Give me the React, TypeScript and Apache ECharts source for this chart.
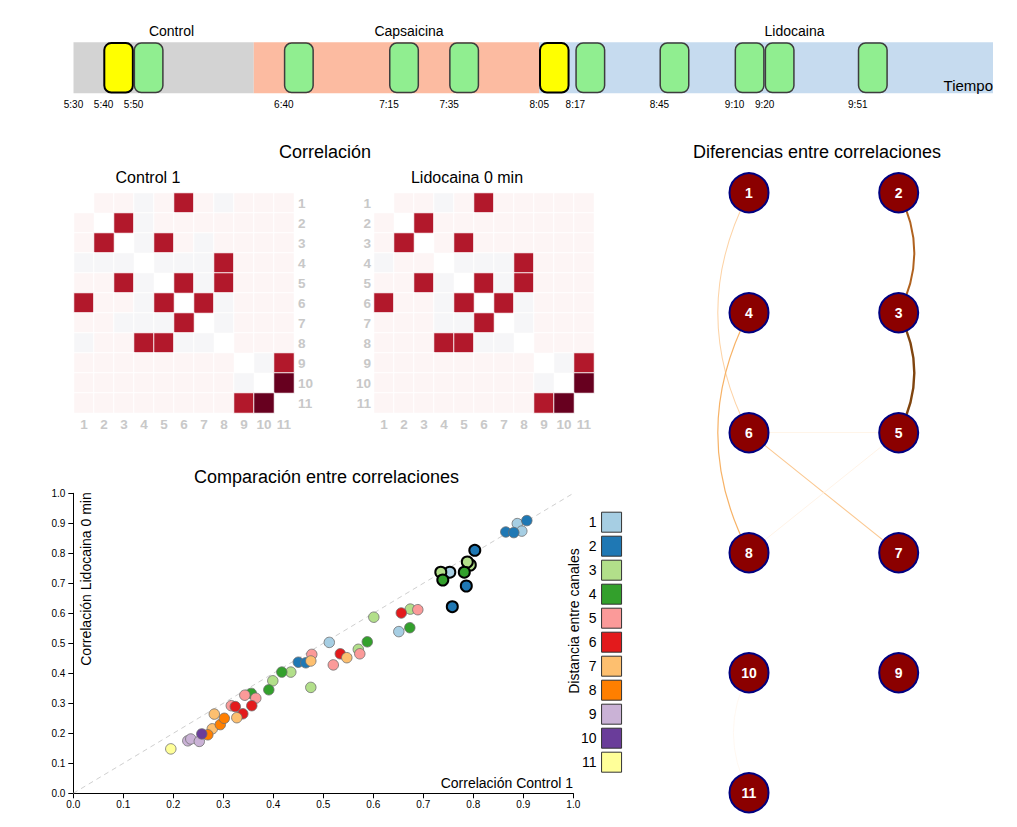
import React, { useEffect, useRef } from 'react';
import * as echarts from 'echarts';

const FONT = 'Arial, "Liberation Sans", Helvetica, sans-serif';

// ---------- Timeline data ----------
const timelineStart = '5:30';
const timelineEnd = '10:36';
const phaseNames = ['Control', 'Capsaicina', 'Lidocaina'];
const phaseStarts = ['5:30', '6:30', '8:05'];
const phaseEnds = ['6:30', '8:05', '10:36'];
const sampleTimes = ['5:40', '5:50', '6:40', '7:15', '7:35', '8:05', '8:17', '8:45', '9:10', '9:20', '9:51'];
const sampleIsReference = [1, 0, 0, 0, 0, 1, 0, 0, 0, 0, 0];
const sampleMinutes = 10;
const timeTickLabels = ['5:30', '5:40', '5:50', '6:40', '7:15', '7:35', '8:05', '8:17', '8:45', '9:10', '9:20', '9:51'];

// ---------- Correlation matrices ----------
const channels = ['1', '2', '3', '4', '5', '6', '7', '8', '9', '10', '11'];
const N = null;
const control1Matrix = [
  [N, 0.1, 0.1, -0.05, 0.1, 0.8, 0.1, -0.05, 0.1, 0.1, 0.1],
  [0.1, N, 0.8, -0.05, 0.1, 0.1, 0.1, 0.1, 0.1, 0.1, 0.1],
  [0.1, 0.8, N, -0.05, 0.8, 0.1, -0.05, 0.1, 0.1, 0.1, 0.1],
  [-0.05, -0.05, -0.05, N, -0.05, -0.05, -0.05, 0.8, 0.1, 0.1, 0.1],
  [0.1, 0.1, 0.8, -0.05, N, 0.8, -0.05, 0.8, 0.1, 0.1, 0.1],
  [0.8, 0.1, 0.1, -0.05, 0.8, N, 0.8, -0.05, 0.1, 0.1, 0.1],
  [0.1, 0.1, -0.05, -0.05, -0.05, 0.8, N, -0.05, 0.1, 0.1, 0.1],
  [-0.05, 0.1, 0.1, 0.8, 0.8, -0.05, -0.05, N, 0.1, 0.1, 0.1],
  [0.1, 0.1, 0.1, 0.1, 0.1, 0.1, 0.1, 0.1, N, -0.05, 0.8],
  [0.1, 0.1, 0.1, 0.1, 0.1, 0.1, 0.1, 0.1, -0.05, N, 0.95],
  [0.1, 0.1, 0.1, 0.1, 0.1, 0.1, 0.1, 0.1, 0.8, 0.95, N],
];
const lidocaine0Matrix = [
  [N, 0.1, 0.1, -0.05, 0.1, 0.8, 0.1, 0.1, 0.1, 0.1, 0.1],
  [0.1, N, 0.8, 0.1, 0.1, 0.1, 0.1, 0.1, 0.1, 0.1, 0.1],
  [0.1, 0.8, N, 0.1, 0.8, 0.1, 0.1, 0.1, 0.1, 0.1, 0.1],
  [-0.05, 0.1, 0.1, N, -0.05, -0.05, -0.05, 0.8, 0.1, 0.1, 0.1],
  [0.1, 0.1, 0.8, -0.05, N, 0.8, -0.05, 0.8, 0.1, 0.1, 0.1],
  [0.8, 0.1, 0.1, -0.05, 0.8, N, 0.8, -0.05, 0.1, 0.1, 0.1],
  [0.1, 0.1, 0.1, -0.05, -0.05, 0.8, N, -0.05, 0.1, 0.1, 0.1],
  [0.1, 0.1, 0.1, 0.8, 0.8, -0.05, -0.05, N, 0.1, 0.1, 0.1],
  [0.1, 0.1, 0.1, 0.1, 0.1, 0.1, 0.1, 0.1, N, -0.05, 0.8],
  [0.1, 0.1, 0.1, 0.1, 0.1, 0.1, 0.1, 0.1, -0.05, N, 0.95],
  [0.1, 0.1, 0.1, 0.1, 0.1, 0.1, 0.1, 0.1, 0.8, 0.95, N],
];

// ---------- Network of correlation differences ----------
const networkRows = [['1', '2'], ['4', '3'], ['6', '5'], ['8', '7'], ['10', '9'], ['11']];
const diffEdges: [string, string, number][] = [
  ['2', '3', 0.085],
  ['3', '5', 0.1],
  ['1', '6', 0.03],
  ['4', '8', 0.045],
  ['6', '5', 0.005],
  ['6', '7', 0.035],
  ['5', '8', 0.006],
  ['10', '11', 0.002],
];

// ---------- Scatter: [Control 1, Lidocaina 0 min, highlighted] by channel distance ----------
const distanceLabels = ['1', '2', '3', '4', '5', '6', '7', '8', '9', '10', '11'];
const dist1 = [[0.512, 0.503, 0], [0.651, 0.539, 0], [0.753, 0.737, 1], [0.888, 0.899, 0], [0.897, 0.874, 0]];
const dist2 = [[0.45, 0.437, 0], [0.465, 0.435, 0], [0.758, 0.622, 1], [0.786, 0.691, 1], [0.803, 0.81, 1], [0.865, 0.871, 0], [0.881, 0.869, 0], [0.907, 0.909, 0]];
const dist3 = [[0.399, 0.375, 0], [0.435, 0.404, 0], [0.475, 0.353, 0], [0.57, 0.48, 0], [0.601, 0.587, 0], [0.674, 0.614, 0], [0.735, 0.737, 1], [0.794, 0.761, 1], [0.788, 0.771, 1]];
const dist4 = [[0.356, 0.333, 0], [0.391, 0.345, 0], [0.417, 0.404, 0], [0.588, 0.505, 0], [0.673, 0.552, 0], [0.739, 0.711, 1], [0.782, 0.737, 1]];
const dist5 = [[0.316, 0.292, 0], [0.343, 0.327, 0], [0.365, 0.317, 0], [0.477, 0.463, 0], [0.52, 0.428, 0], [0.573, 0.465, 0], [0.689, 0.612, 0]];
const dist6 = [[0.324, 0.289, 0], [0.339, 0.265, 0], [0.357, 0.292, 0], [0.534, 0.465, 0], [0.656, 0.601, 0]];
const dist7 = [[0.278, 0.215, 0], [0.282, 0.264, 0], [0.327, 0.252, 0], [0.475, 0.441, 0], [0.547, 0.452, 0]];
const dist8 = [[0.269, 0.195, 0], [0.294, 0.229, 0], [0.302, 0.25, 0]];
const dist9 = [[0.229, 0.175, 0], [0.235, 0.181, 0], [0.252, 0.173, 0]];
const dist10 = [[0.257, 0.198, 0]];
const dist11 = [[0.195, 0.148, 0]];
const scatterByDistance = [dist1, dist2, dist3, dist4, dist5, dist6, dist7, dist8, dist9, dist10, dist11];
const identityLine = [[0, 0], [1, 1]];

// ---------- Styles ----------
const phaseColors = ['#d3d3d3', '#fcbba1', '#c6dbef'];
const distanceColors = ['#a6cee3', '#1f78b4', '#b2df8a', '#33a02c', '#fb9a99', '#e31a1c', '#fdbf6f', '#ff7f00', '#cab2d6', '#6a3d9a', '#ffff99'];
const edgeStops: [number, string][] = [
  [0, '#fffaf4'],
  [0.03, '#fdd3a6'],
  [0.045, '#f7b266'],
  [0.085, '#b0621f'],
  [0.1, '#80450f'],
];

const baseMin = (() => {
  const [h, m] = timelineStart.split(':').map(Number);
  return h * 60 + m;
})();
const toMin = (s: string) => {
  const [h, m] = s.split(':').map(Number);
  return h * 60 + m - baseMin;
};
const fmtMin = (v: number) => {
  const t = Math.round(v + baseMin);
  const h = Math.floor(t / 60);
  const m = t % 60;
  return `${h}:${m < 10 ? '0' + m : m}`;
};

function hexToRgb(h: string) {
  const n = parseInt(h.slice(1), 16);
  return [(n >> 16) & 255, (n >> 8) & 255, n & 255];
}
function edgeColor(v: number) {
  for (let i = 1; i < edgeStops.length; i++) {
    if (v <= edgeStops[i][0]) {
      const [a, ca] = edgeStops[i - 1];
      const [b, cb] = edgeStops[i];
      const t = (v - a) / (b - a);
      const A = hexToRgb(ca);
      const B = hexToRgb(cb);
      const c = A.map((x, k) => Math.round(x + (B[k] - x) * t));
      return `rgb(${c[0]},${c[1]},${c[2]})`;
    }
  }
  return edgeStops[edgeStops.length - 1][1];
}
const edgeWidth = (v: number) => 0.9 + 150 * v * v;

function matrixToData(m: (number | null)[][]) {
  const out: number[][] = [];
  m.forEach((row, r) =>
    row.forEach((v, c) => {
      if (v !== null) out.push([c, r, v]);
    })
  );
  return out;
}

function buildOption() {
  const nodePos: Record<string, [number, number]> = {};
  networkRows.forEach((row, r) => row.forEach((id, c) => (nodePos[id] = [c, r])));
  const nodes = Object.keys(nodePos).map((id) => ({ name: id, value: nodePos[id] }));
  const links = diffEdges.map(([s, t, v]) => {
    const [sc, sr] = nodePos[s];
    const [tc, tr] = nodePos[t];
    let curveness = 0;
    if (sc === tc) curveness = (sc === 0 ? -1 : 1) * 0.26 * (tr > sr ? 1 : -1);
    return {
      source: s,
      target: t,
      value: v,
      lineStyle: { color: edgeColor(v), width: edgeWidth(v), curveness, opacity: 1 },
    };
  });

  const heatLabel = { color: '#c8c8c8', fontWeight: 'bold', fontSize: 13.5, fontFamily: FONT, interval: 0 };
  const hidden = { axisLine: { show: false }, axisTick: { show: false }, splitLine: { show: false } };
  const blackAxis = {
    axisLine: { show: true, onZero: false, lineStyle: { color: '#000', width: 1 } },
    axisTick: { show: true, length: 5, lineStyle: { color: '#000' } },
    splitLine: { show: false },
  };

  const text = (t: string, x: number, y: number, size: number, align = 'center', rotation = 0) => ({
    type: 'text',
    x,
    y,
    z: 100,
    zlevel: 0,
    rotation,
    silent: true,
    style: { text: t, x: 0, y: 0, fontSize: size, fontFamily: FONT, fill: '#000', align, verticalAlign: 'middle' },
  });

  const scatterSeries = scatterByDistance.map((arr, i) => ({
    type: 'scatter',
    name: distanceLabels[i],
    xAxisIndex: 3,
    yAxisIndex: 3,
    symbolSize: 10.5,
    z: 3,
    itemStyle: { color: distanceColors[i], borderColor: '#6e6e6e', borderWidth: 0.8, opacity: 1 },
    emphasis: { disabled: true },
    data: arr.map(([x, y, h]) =>
      h
        ? { value: [x, y], symbolSize: 11, itemStyle: { borderColor: '#000', borderWidth: 2 } }
        : { value: [x, y] }
    ),
  }));

  return {
    animation: false,
    textStyle: { fontFamily: FONT },
    grid: [
      { left: 65.5, top: 34.3, width: 919.5, height: 51 },
      { left: 66, top: 185, width: 220, height: 220 },
      { left: 366, top: 185, width: 220, height: 220 },
      { left: 65.3, top: 485.3, width: 500, height: 300 },
      { left: 741, top: 184.7, width: 149.7, height: 600 },
    ],
    xAxis: [
      {
        type: 'value',
        gridIndex: 0,
        min: 0,
        max: toMin(timelineEnd),
        ...hidden,
        axisLabel: {
          customValues: timeTickLabels.map(toMin),
          formatter: (v: number) => fmtMin(v),
          fontSize: 10,
          color: '#000',
          margin: 6,
          fontFamily: FONT,
        },
      },
      { type: 'category', gridIndex: 1, data: channels, position: 'bottom', ...hidden, axisLabel: { ...heatLabel, margin: 4 } },
      { type: 'category', gridIndex: 2, data: channels, position: 'bottom', ...hidden, axisLabel: { ...heatLabel, margin: 4 } },
      {
        type: 'value',
        gridIndex: 3,
        min: 0,
        max: 1,
        interval: 0.1,
        ...blackAxis,
        axisLabel: { formatter: (v: number) => v.toFixed(1), fontSize: 10, color: '#000', margin: 6, fontFamily: FONT },
      },
      { type: 'value', gridIndex: 4, min: 0, max: 1, show: false },
    ],
    yAxis: [
      { type: 'value', gridIndex: 0, min: 0, max: 1, show: false },
      { type: 'category', gridIndex: 1, data: channels, inverse: true, position: 'right', ...hidden, axisLabel: { ...heatLabel, margin: 4 } },
      { type: 'category', gridIndex: 2, data: channels, inverse: true, position: 'left', ...hidden, axisLabel: { ...heatLabel, margin: 3 } },
      {
        type: 'value',
        gridIndex: 3,
        min: 0,
        max: 1,
        interval: 0.1,
        ...blackAxis,
        axisLabel: { formatter: (v: number) => v.toFixed(1), fontSize: 10, color: '#000', margin: 8, fontFamily: FONT },
      },
      { type: 'value', gridIndex: 4, min: 0, max: 5, inverse: true, show: false },
    ],
    visualMap: [
      {
        type: 'piecewise',
        show: false,
        seriesIndex: [2, 3],
        dimension: 2,
        pieces: [
          { lt: 0, color: '#f6f6f8' },
          { gte: 0, lt: 0.5, color: '#fdf5f5' },
          { gte: 0.5, lt: 0.9, color: '#b2182b' },
          { gte: 0.9, color: '#67001f' },
        ],
      },
    ],
    legend: {
      data: distanceLabels,
      orient: 'vertical',
      left: 573,
      top: 503.7,
      padding: 0,
      itemWidth: 20,
      itemHeight: 20,
      itemGap: 3,
      align: 'right',
      icon: 'rect',
      selectedMode: false,
      textStyle: { fontSize: 14, color: '#000', fontFamily: FONT },
      itemStyle: { borderColor: '#333', borderWidth: 1 },
    },
    graphic: {
      elements: [
        text('Control', 163.5, 23, 14),
        text('Capsaicina', 401, 23, 14),
        text('Lidocaina', 786.5, 23, 14),
        text('Tiempo', 985, 77, 15, 'right'),
        text('Correlación', 317, 144, 18),
        text('Control 1', 140, 169, 16),
        text('Lidocaina 0 min', 459, 169, 16),
        text('Diferencias entre correlaciones', 809, 144, 18),
        text('Comparación entre correlaciones', 318.5, 469, 18),
        text('Correlación Control 1', 565, 774.7, 14, 'right'),
        text('Correlación Lidocaina 0 min', 78, 571, 14, 'center', Math.PI / 2),
        text('Distancia entre canales', 566, 613, 14, 'center', Math.PI / 2),
      ],
    },
    series: [
      {
        type: 'custom',
        name: 'phases',
        xAxisIndex: 0,
        yAxisIndex: 0,
        silent: true,
        z: 0,
        encode: { x: [0, 1] },
        data: phaseNames.map((n, i) => [toMin(phaseStarts[i]), toMin(phaseEnds[i]), i]),
        renderItem: (params: any, api: any) => {
          const s = api.coord([api.value(0), 1]);
          const e = api.coord([api.value(1), 0]);
          return {
            type: 'rect',
            shape: { x: s[0], y: s[1], width: e[0] - s[0], height: e[1] - s[1] },
            style: { fill: phaseColors[api.value(2)] },
          };
        },
      },
      {
        type: 'custom',
        name: 'samples',
        xAxisIndex: 0,
        yAxisIndex: 0,
        silent: true,
        z: 1,
        encode: { x: [0, 1] },
        data: sampleTimes.map((t, i) => [toMin(t), toMin(t) + sampleMinutes, sampleIsReference[i]]),
        renderItem: (params: any, api: any) => {
          const s = api.coord([api.value(0), 1]);
          const e = api.coord([api.value(1), 0]);
          const ref = api.value(2) === 1;
          return {
            type: 'rect',
            shape: { x: s[0] + 0.75, y: s[1] + 0.75, width: e[0] - s[0] - 1.5, height: e[1] - s[1] - 1.5, r: 7 },
            style: { fill: ref ? '#ffff00' : '#90ee90', stroke: ref ? '#000' : '#3d3d3d', lineWidth: ref ? 2 : 1.5 },
          };
        },
      },
      {
        type: 'heatmap',
        name: 'Control 1',
        xAxisIndex: 1,
        yAxisIndex: 1,
        silent: true,
        data: matrixToData(control1Matrix),
        itemStyle: { borderColor: 'rgba(255,255,255,0.9)', borderWidth: 1 },
        emphasis: { disabled: true },
      },
      {
        type: 'heatmap',
        name: 'Lidocaina 0 min',
        xAxisIndex: 2,
        yAxisIndex: 2,
        silent: true,
        data: matrixToData(lidocaine0Matrix),
        itemStyle: { borderColor: 'rgba(255,255,255,0.9)', borderWidth: 1 },
        emphasis: { disabled: true },
      },
      {
        type: 'graph',
        name: 'Diferencias',
        coordinateSystem: 'cartesian2d',
        xAxisIndex: 4,
        yAxisIndex: 4,
        silent: true,
        symbolSize: 39,
        data: nodes,
        links,
        label: { show: true, position: 'inside', color: '#fff', fontWeight: 'bold', fontSize: 14, fontFamily: FONT },
        itemStyle: { color: '#8b0000', borderColor: '#000080', borderWidth: 2, opacity: 1 },
        emphasis: { disabled: true },
      },
      {
        type: 'line',
        name: 'identidad',
        xAxisIndex: 3,
        yAxisIndex: 3,
        silent: true,
        symbol: 'none',
        z: 1,
        data: identityLine,
        lineStyle: { color: '#cfcfcf', width: 1, type: [5, 4] },
      },
      ...scatterSeries,
    ],
  };
}

export default function App() {
  const ref = useRef<HTMLDivElement>(null);
  useEffect(() => {
    if (!ref.current) return;
    const chart = echarts.init(ref.current, undefined, { renderer: 'svg' });
    chart.setOption(buildOption() as any);
    return () => chart.dispose();
  }, []);
  return <div ref={ref} style={{ width: 1001, height: 811 }} />;
}
